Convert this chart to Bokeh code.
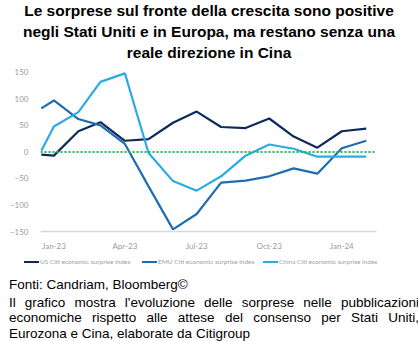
import pandas as pd
from bokeh.plotting import figure
from bokeh.models import (ColumnDataSource, Span, FixedTicker,
                          DatetimeTickFormatter, Range1d, Div)
from bokeh.layouts import column
from bokeh.embed import file_html
from bokeh.resources import INLINE

title_text = ("Le sorprese sul fronte della crescita sono positive negli Stati Uniti "
              "e in Europa, ma restano senza una reale direzione in Cina")
dates = ["2022-12-16", "2023-01-01", "2023-02-01", "2023-03-01", "2023-04-01",
         "2023-05-01", "2023-06-01", "2023-07-01", "2023-08-01", "2023-09-01",
         "2023-10-01", "2023-11-01", "2023-12-01", "2024-01-01", "2024-02-01"]
us = [-5, -7, 39, 56, 21, 24, 55, 76, 47, 45, 63, 29, 8, 39, 44]
emu = [82, 97, 62, 50, 15, -65, -146, -117, -58, -54, -46, -31, -41, 7, 21]
china = [2, 48, 75, 132, 148, -2, -55, -73, -46, -7, 14, 6, -9, -9, -9]
series_names = ["US Citi economic surprise index", "EMU Citi economic surprise index",
                "China Citi economic surprise index"]
colors = ["#0e2a5c", "#1f6db0", "#2aace2"]
tick_dates = ["2023-01-01", "2023-04-01", "2023-07-01", "2023-10-01", "2024-01-01"]
y_ticks = [-150, -100, -50, 0, 50, 100, 150]
source_line = "Fonti: Candriam, Bloomberg©"
note = ("Il grafico mostra l'evoluzione delle sorprese nelle pubblicazioni economiche "
        "rispetto alle attese del consenso per Stati Uniti, Eurozona e Cina, "
        "elaborate da Citigroup")

x = pd.to_datetime(dates)
src = ColumnDataSource(dict(x=x, us=us, emu=emu, china=china))

p = figure(width=418, height=192, output_backend="svg", toolbar_location=None,
           x_axis_type="datetime",
           x_range=Range1d(pd.Timestamp("2022-12-15"), pd.Timestamp("2024-02-14")),
           y_range=Range1d(-150, 161),
           min_border_left=40, min_border_right=42, min_border_top=4, min_border_bottom=23)
p.outline_line_color = None
p.xgrid.visible = False
p.ygrid.visible = False
p.background_fill_color = "white"

zero = Span(location=0, dimension="width", line_color="#1fb35a", line_width=2,
            line_dash="2 2")
p.add_layout(zero)

keys = ["us", "emu", "china"]
for key, c in zip(keys, colors):
    p.line("x", key, source=src, line_color=c, line_width=2.2)

p.xaxis.ticker = FixedTicker(ticks=[pd.Timestamp(d).value // 10**6 for d in tick_dates])
p.xaxis.formatter = DatetimeTickFormatter(months="%b-%y", days="%b-%y", years="%b-%y")
p.xaxis.axis_line_color = "#d9d9d9"
p.xaxis.axis_line_width = 1.5
p.xaxis.major_tick_line_color = None
p.xaxis.minor_tick_line_color = None
p.xaxis.major_label_text_font_size = "8px"
p.xaxis.major_label_text_color = "#9a9a9a"
p.xaxis.major_label_text_font = "Lato"
p.xaxis.major_label_standoff = 3

p.yaxis.ticker = FixedTicker(ticks=y_ticks)
p.yaxis.axis_line_color = None
p.yaxis.major_tick_line_color = None
p.yaxis.minor_tick_line_color = None
p.yaxis.major_label_text_font_size = "8px"
p.yaxis.major_label_text_color = "#9a9a9a"
p.yaxis.major_label_text_font = "Lato"
p.yaxis.major_label_standoff = 6

# HTML legend strip (the legend is wider than the plot frame)
item_left = [24, 142, 263]
legend_html = "".join(
    f"<div style='position:absolute;left:{lx}px;top:0;height:16px;display:flex;"
    f"align-items:center;white-space:nowrap'>"
    f"<span style='display:inline-block;width:15px;height:0;border-top:2px solid {c};"
    f"margin-right:1px'></span>"
    f"<span style='font-family:Lato, sans-serif;font-size:6.5px;color:#a0a0a0'>{n}</span></div>"
    for lx, n, c in zip(item_left, series_names, colors))
legend_div = Div(text=f"<div style='position:relative;width:418px;height:16px'>{legend_html}</div>",
                 width=418, height=16, styles={"margin": "0", "padding": "0"})

title_div = Div(text=title_text, width=418, height=62,
                styles={"font-family": "Liberation Sans, Arial, sans-serif",
                        "font-weight": "bold", "font-size": "15.5px",
                        "line-height": "21px", "text-align": "center",
                        "color": "#000", "margin": "0", "padding": "0 4px",
                        "box-sizing": "border-box"})
foot_div = Div(text=(f"<div style='margin-bottom:2px'>{source_line}</div>"
                     f"<div style='text-align:justify'>{note}</div>"),
               width=418, height=71,
               styles={"font-family": "Liberation Sans, Arial, sans-serif",
                       "font-size": "13.5px", "line-height": "15.7px",
                       "color": "#000", "padding": "2px 4px 0 4px",
                       "box-sizing": "border-box"})

layout = column(title_div, p, legend_div, foot_div, spacing=0)
open("out.html", "w").write(file_html(layout, INLINE))
